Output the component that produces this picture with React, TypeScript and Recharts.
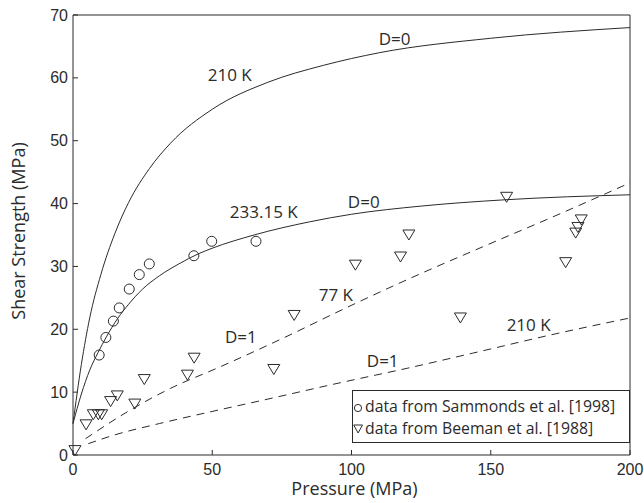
import React from 'react';
import { ComposedChart, Line, Scatter, XAxis, YAxis, ReferenceDot } from 'recharts';

const pressureTicks = [0, 50, 100, 150, 200];
const strengthTicks = [0, 10, 20, 30, 40, 50, 60, 70];

// Model curves: [pressure (MPa), shear strength (MPa)]
const curve210K_D0 = [[0, 5], [3, 14.4], [6, 21.8], [10, 28.7], [15, 35.2], [20, 40.2], [27.5, 45.6], [35, 49.6], [50, 55], [70, 59.3], [90, 62], [110, 64], [150, 66.3], [200, 68]];
const curve233K_D0 = [[0, 5], [3, 9.7], [6, 13.5], [9, 16.3], [12, 18.8], [16, 21.7], [20, 24], [25, 26.4], [31, 28.5], [38, 30.4], [45, 32], [50, 32.9], [65, 35], [85, 37.1], [100, 38.3], [125, 39.6], [155, 40.6], [200, 41.4]];
const curve77K_D1 = [[4.5, 2.6], [20, 7], [35, 10.6], [52.7, 14], [75, 18.5], [98, 23.4], [121, 28.1], [147, 33.1], [175, 38.4], [200, 43.3]];
const curve210K_D1 = [[5.5, 1.8], [15, 3.2], [31, 5], [52.7, 7.2], [67, 8.6], [96, 11.5], [120, 13.8], [143.5, 16.2], [173.5, 19.3], [200, 21.8]];

// Measurements
const sammondsData = [[9.4, 15.9], [11.8, 18.7], [14.5, 21.3], [16.6, 23.4], [20.2, 26.4], [23.8, 28.7], [27.4, 30.4], [43.4, 31.7], [49.8, 34.0], [65.7, 34.0]];
const beemanData = [[0.7, 0.7], [4.7, 4.8], [7.3, 6.4], [9.1, 6.4], [10.3, 6.4], [13.5, 8.5], [15.9, 9.4], [22.2, 8.1], [25.6, 12.0], [41.1, 12.7], [43.5, 15.4], [72.1, 13.6], [79.4, 22.2], [101.4, 30.2], [117.6, 31.5], [120.6, 35.0], [139.1, 21.8], [155.7, 41.0], [176.9, 30.6], [180.5, 35.3], [181.3, 36.2], [182.5, 37.4]];

// Curve annotations: [pressure, strength, text]
const annotations: [number, number, string][] = [
  [115.5, 66.3, 'D=0'],
  [56.3, 60.5, '210 K'],
  [68.5, 38.8, '233.15 K'],
  [104.4, 40.4, 'D=0'],
  [94.4, 25.5, '77 K'],
  [60.3, 18.8, 'D=1'],
  [163.6, 20.8, '210 K'],
  [111.2, 15.0, 'D=1'],
];

const legendItems = ['data from Sammonds et al. [1998]', 'data from Beeman et al. [1988]'];

const toPts = (a: number[][]) => a.map(([x, y]) => ({ x, y }));

const INK = '#2b2b2b';
const FONT = '"Open Sans", sans-serif';
const TICKFONT = '"Liberation Sans", Arial, sans-serif';

const BottomTick = (p: any) => (
  <g>
    <line x1={p.x} x2={p.x} y1={p.y} y2={p.y - 5} stroke={INK} />
    <text x={p.x} y={p.y + 14} textAnchor="middle" dominantBaseline="central" fontSize={16} fill={INK} fontFamily={TICKFONT}>{p.payload.value}</text>
  </g>
);
const TopTick = (p: any) => <line x1={p.x} x2={p.x} y1={p.y} y2={p.y + 5} stroke={INK} />;
const LeftTick = (p: any) => (
  <g>
    <line x1={p.x} x2={p.x + 5} y1={p.y} y2={p.y} stroke={INK} />
    <text x={p.x - 5} y={p.y} textAnchor="end" dominantBaseline="central" fontSize={16} fill={INK} fontFamily={TICKFONT}>{p.payload.value}</text>
  </g>
);
const RightTick = (p: any) => <line x1={p.x} x2={p.x - 5} y1={p.y} y2={p.y} stroke={INK} />;

const Triangle = (p: any) => {
  const { cx, cy } = p;
  if (cx == null || cy == null) return null;
  return <path d={`M${cx - 6},${cy - 5} L${cx + 6},${cy - 5} L${cx},${cy + 5} Z`} fill="none" stroke={INK} strokeWidth={1} />;
};
const Circle = (p: any) => {
  const { cx, cy } = p;
  if (cx == null || cy == null) return null;
  return <circle cx={cx} cy={cy} r={5} fill="none" stroke={INK} strokeWidth={1} />;
};

export default function App() {
  return (
    <div style={{ position: 'absolute', left: 0, top: 0, width: 644, height: 503, background: '#fff' }}>
      <ComposedChart width={644} height={503} margin={{ top: 14, right: 13, bottom: 47, left: 72 }}>
        <XAxis xAxisId="b" dataKey="x" type="number" domain={[0, 200]} ticks={pressureTicks} height={1}
          tickLine={false} tickSize={0} tickMargin={0} tick={<BottomTick />} axisLine={{ stroke: INK }}
          label={{
            content: (lp: any) => {
              const vb = lp.viewBox;
              return <text x={vb.x + vb.width / 2 + 3} y={vb.y + 40} textAnchor="middle" fontSize={18} fill={INK} fontFamily={FONT}>Pressure (MPa)</text>;
            },
          }} />
        <XAxis xAxisId="t" orientation="top" dataKey="x" type="number" domain={[0, 200]} ticks={pressureTicks} height={1}
          tickLine={false} tickSize={0} tickMargin={0} tick={<TopTick />} axisLine={{ stroke: INK }} />
        <YAxis yAxisId="l" type="number" domain={[0, 70]} ticks={strengthTicks} width={1}
          tickLine={false} tickSize={0} tickMargin={0} tick={<LeftTick />} axisLine={{ stroke: INK }}
          label={{
            content: (lp: any) => {
              const vb = lp.viewBox;
              const cx = vb.x - 47;
              const cy = vb.y + vb.height / 2 - 4;
              return <text x={cx} y={cy} transform={`rotate(-90 ${cx} ${cy})`} textAnchor="middle" fontSize={18} fill={INK} fontFamily={FONT}>Shear Strength (MPa)</text>;
            },
          }} />
        <YAxis yAxisId="r" orientation="right" type="number" domain={[0, 70]} ticks={strengthTicks} width={1}
          tickLine={false} tickSize={0} tickMargin={0} tick={<RightTick />} axisLine={{ stroke: INK }} />

        <Line xAxisId="b" yAxisId="l" data={toPts(curve210K_D0)} dataKey="y" type="monotone" stroke={INK} strokeWidth={1} dot={false} isAnimationActive={false} />
        <Line xAxisId="b" yAxisId="l" data={toPts(curve233K_D0)} dataKey="y" type="monotone" stroke={INK} strokeWidth={1} dot={false} isAnimationActive={false} />
        <Line xAxisId="b" yAxisId="l" data={toPts(curve77K_D1)} dataKey="y" type="monotone" stroke={INK} strokeWidth={1} strokeDasharray="8 6" dot={false} isAnimationActive={false} />
        <Line xAxisId="b" yAxisId="l" data={toPts(curve210K_D1)} dataKey="y" type="monotone" stroke={INK} strokeWidth={1} strokeDasharray="8 6" dot={false} isAnimationActive={false} />

        <Scatter xAxisId="b" yAxisId="l" data={toPts(sammondsData)} dataKey="y" shape={<Circle />} isAnimationActive={false} />
        <Scatter xAxisId="b" yAxisId="l" data={toPts(beemanData)} dataKey="y" shape={<Triangle />} isAnimationActive={false} />

        {annotations.map(([x, y, t], i) => (
          <ReferenceDot key={i} xAxisId="b" yAxisId="l" x={x} y={y} r={0} ifOverflow="visible"
            shape={(p: any) => (
              <text x={p.cx} y={p.cy} textAnchor="middle" dominantBaseline="central" fontSize={17} fill={INK} fontFamily={FONT}>{t}</text>
            )} />
        ))}
      </ComposedChart>
      <div style={{ position: 'absolute', left: 352, top: 390, width: 278, height: 53, border: `1px solid ${INK}`, background: '#fff', fontFamily: FONT, fontSize: 15.8, color: INK, boxSizing: 'border-box', padding: '5px 0 0 0', lineHeight: '21.5px' }}>
        {legendItems.map((t, i) => (
          <div key={i} style={{ display: 'flex', alignItems: 'center', whiteSpace: 'nowrap' }}>
            <svg width={10} height={12} style={{ marginRight: 2, marginTop: 2 }}>
              {i === 0 ? <circle cx={5} cy={6} r={3.6} fill="none" stroke={INK} /> : <path d="M0.7,2 L9.5,2 L5.1,10 Z" fill="none" stroke={INK} />}
            </svg>
            <span>{t}</span>
          </div>
        ))}
      </div>
    </div>
  );
}
